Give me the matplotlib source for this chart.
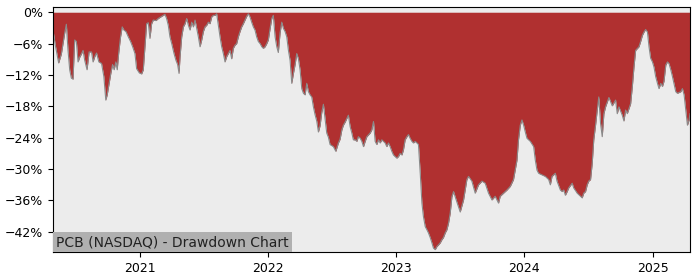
import numpy as np
import pandas as pd
import matplotlib
matplotlib.use("Agg")
import matplotlib.pyplot as plt
import matplotlib.dates as mdates
from matplotlib.ticker import FuncFormatter, MultipleLocator

# drawdown curve (time as decimal year, drawdown in %)
years = [
    2020.323, 2020.341, 2020.367, 2020.388, 2020.401, 2020.414, 2020.427, 2020.440, 2020.453, 2020.466,
    2020.479, 2020.492, 2020.505, 2020.518, 2020.531, 2020.544, 2020.557, 2020.570, 2020.588, 2020.604,
    2020.623, 2020.635, 2020.648, 2020.662, 2020.680, 2020.701, 2020.719, 2020.734, 2020.745, 2020.760,
    2020.773, 2020.787, 2020.799, 2020.812, 2020.823, 2020.834, 2020.849, 2020.862, 2020.875, 2020.891,
    2020.909, 2020.927, 2020.943, 2020.961, 2020.974, 2020.995, 2021.013, 2021.026, 2021.039, 2021.052,
    2021.065, 2021.078, 2021.091, 2021.104, 2021.125, 2021.143, 2021.162, 2021.182, 2021.195, 2021.208,
    2021.221, 2021.234, 2021.248, 2021.266, 2021.281, 2021.294, 2021.305, 2021.313, 2021.326, 2021.339,
    2021.352, 2021.365, 2021.378, 2021.391, 2021.404, 2021.417, 2021.430, 2021.443, 2021.456, 2021.469,
    2021.482, 2021.495, 2021.508, 2021.521, 2021.534, 2021.547, 2021.560, 2021.573, 2021.586, 2021.599,
    2021.612, 2021.625, 2021.638, 2021.651, 2021.664, 2021.677, 2021.690, 2021.703, 2021.716, 2021.729,
    2021.742, 2021.755, 2021.768, 2021.781, 2021.794, 2021.807, 2021.820, 2021.833, 2021.846, 2021.859,
    2021.872, 2021.885, 2021.898, 2021.911, 2021.924, 2021.938, 2021.951, 2021.963, 2021.977, 2021.990,
    2022.002, 2022.016, 2022.029, 2022.041, 2022.055, 2022.068, 2022.080, 2022.094, 2022.107, 2022.120,
    2022.133, 2022.146, 2022.159, 2022.172, 2022.185, 2022.198, 2022.211, 2022.224, 2022.237, 2022.250,
    2022.263, 2022.276, 2022.289, 2022.302, 2022.315, 2022.328, 2022.341, 2022.354, 2022.367, 2022.380,
    2022.393, 2022.406, 2022.419, 2022.432, 2022.445, 2022.458, 2022.471, 2022.484, 2022.510, 2022.529,
    2022.549, 2022.562, 2022.576, 2022.588, 2022.602, 2022.615, 2022.627, 2022.641, 2022.654, 2022.666,
    2022.680, 2022.693, 2022.705, 2022.719, 2022.732, 2022.745, 2022.758, 2022.771, 2022.797, 2022.810,
    2022.823, 2022.836, 2022.849, 2022.862, 2022.875, 2022.888, 2022.901, 2022.914, 2022.927, 2022.940,
    2022.953, 2022.966, 2022.979, 2022.992, 2023.005, 2023.018, 2023.031, 2023.045, 2023.057, 2023.070,
    2023.084, 2023.096, 2023.109, 2023.123, 2023.135, 2023.148, 2023.162, 2023.174, 2023.188, 2023.201,
    2023.213, 2023.227, 2023.240, 2023.252, 2023.266, 2023.279, 2023.291, 2023.305, 2023.318, 2023.330,
    2023.344, 2023.357, 2023.369, 2023.383, 2023.396, 2023.409, 2023.422, 2023.435, 2023.448, 2023.474,
    2023.500, 2023.526, 2023.552, 2023.565, 2023.591, 2023.617, 2023.643, 2023.670, 2023.695, 2023.721,
    2023.748, 2023.773, 2023.799, 2023.812, 2023.838, 2023.865, 2023.891, 2023.916, 2023.943, 2023.955,
    2023.969, 2023.982, 2023.995, 2024.008, 2024.021, 2024.047, 2024.073, 2024.086, 2024.099, 2024.112,
    2024.138, 2024.164, 2024.190, 2024.203, 2024.216, 2024.242, 2024.255, 2024.281, 2024.295, 2024.307,
    2024.320, 2024.334, 2024.346, 2024.373, 2024.385, 2024.412, 2024.438, 2024.451, 2024.463, 2024.477,
    2024.490, 2024.502, 2024.516, 2024.529, 2024.541, 2024.555, 2024.568, 2024.580, 2024.594, 2024.607,
    2024.620, 2024.633, 2024.659, 2024.685, 2024.711, 2024.724, 2024.737, 2024.763, 2024.776, 2024.789,
    2024.802, 2024.828, 2024.841, 2024.854, 2024.867, 2024.893, 2024.906, 2024.920, 2024.932, 2024.945,
    2024.959, 2024.971, 2024.984, 2024.998, 2025.010, 2025.023, 2025.037, 2025.049, 2025.063, 2025.076,
    2025.088, 2025.102, 2025.115, 2025.127, 2025.141, 2025.154, 2025.166, 2025.180, 2025.193, 2025.219,
    2025.232, 2025.245, 2025.258, 2025.271, 2025.284, 2025.291,
]
drawdown = [
    -3.4, -6.3, -9.7, -8.0, -6.0, -4.0, -2.3, -7.3, -11.0, -12.6,
    -12.8, -5.3, -5.6, -9.5, -8.6, -8.0, -7.3, -9.2, -11.0, -7.6,
    -7.6, -9.5, -8.5, -7.8, -9.5, -9.8, -12.3, -16.8, -15.8, -13.6,
    -11.7, -10.0, -11.0, -9.5, -11.0, -7.9, -4.7, -2.8, -3.4, -3.7,
    -4.7, -5.6, -6.6, -7.9, -10.8, -11.6, -11.8, -11.0, -6.6, -2.2,
    -2.0, -5.0, -2.2, -1.5, -1.6, -1.2, -0.9, -0.6, -0.4, -1.2,
    -2.5, -4.7, -6.0, -7.9, -9.2, -10.0, -11.7, -8.5, -4.7, -2.8,
    -2.2, -1.2, -2.5, -3.4, -1.9, -2.8, -1.5, -3.1, -4.7, -6.6,
    -5.3, -3.7, -2.8, -2.5, -1.9, -2.2, -0.9, -0.6, -0.6, -0.3,
    -2.5, -4.7, -6.6, -7.9, -9.5, -8.5, -7.9, -7.3, -8.9, -6.9,
    -6.3, -6.0, -4.7, -3.7, -2.8, -2.2, -1.5, -0.8, -0.3, -0.9,
    -1.9, -2.8, -3.4, -4.7, -5.6, -6.0, -6.6, -6.9, -6.6, -6.0,
    -5.3, -3.1, -1.2, -0.6, -4.7, -6.6, -7.7, -3.9, -1.9, -3.1,
    -3.7, -4.7, -7.3, -9.2, -13.6, -11.7, -10.0, -7.9, -8.9, -11.0,
    -14.6, -15.5, -15.8, -13.6, -15.2, -15.8, -16.2, -18.1, -19.6, -20.8,
    -22.9, -21.7, -19.2, -17.6, -20.3, -23.1, -23.9, -25.3, -25.7, -26.6,
    -25.0, -24.3, -22.5, -21.6, -21.0, -20.3, -19.7, -21.9, -23.1, -24.4,
    -24.4, -24.7, -23.8, -24.1, -24.7, -25.7, -24.7, -23.8, -23.1, -22.5,
    -20.9, -24.7, -25.3, -24.4, -25.0, -24.4, -24.7, -25.0, -25.7, -25.0,
    -25.7, -26.6, -27.3, -27.6, -27.9, -27.6, -27.0, -27.3, -26.3, -24.4,
    -23.8, -23.4, -24.1, -24.7, -25.0, -24.7, -25.0, -25.3, -30.8, -36.5,
    -39.1, -41.0, -41.6, -42.2, -43.1, -44.1, -45.1, -45.4, -44.8, -44.5,
    -44.1, -43.5, -43.1, -42.2, -41.6, -40.3, -38.4, -35.3, -34.3, -36.3,
    -38.2, -35.9, -32.0, -31.4, -32.3, -34.6, -33.0, -32.3, -32.7, -34.6,
    -35.9, -35.2, -36.5, -35.2, -34.6, -34.0, -33.3, -32.0, -28.3, -24.4,
    -21.6, -20.6, -21.6, -22.9, -24.1, -24.7, -25.7, -28.3, -30.2, -30.8,
    -31.1, -31.4, -32.0, -33.0, -31.4, -30.8, -32.3, -34.0, -34.3, -34.0,
    -35.0, -34.3, -33.6, -32.7, -33.6, -34.6, -35.2, -35.5, -34.6, -34.3,
    -33.0, -32.3, -32.0, -28.9, -24.4, -21.6, -18.7, -16.2, -21.3, -23.8,
    -19.4, -18.1, -16.3, -17.9, -16.8, -19.4, -18.1, -19.7, -20.8, -18.7,
    -19.4, -17.5, -14.3, -10.5, -7.3, -6.6, -5.6, -4.4, -3.8, -3.3,
    -3.8, -6.6, -8.8, -9.5, -10.5, -12.3, -13.6, -14.6, -13.6, -14.2,
    -13.2, -10.1, -9.5, -9.8, -11.0, -12.3, -13.6, -15.2, -15.5, -15.2,
    -14.6, -15.8, -18.7, -21.6, -20.6, -19.4,
]
title = "PCB (NASDAQ) - Drawdown Chart"


def to_date(y):
    start = pd.Timestamp(int(y), 1, 1)
    days = (pd.Timestamp(int(y) + 1, 1, 1) - start).days
    return start + pd.Timedelta(days=(y - int(y)) * days)


dates = [to_date(y) for y in years]
dd = np.array(drawdown)

fig = plt.figure(figsize=(7, 2.8), dpi=100)
ax = fig.add_axes([0.0757, 0.1, 0.91, 0.875])
ax.set_facecolor("#ececec")

ax.fill_between(dates, dd, 0, color="#b03030", linewidth=0)
ax.plot(dates, dd, color="#8a8a8a", linewidth=0.8)

ax.set_xlim(dates[0], dates[-1])
ax.set_ylim(dd.min() * 1.01, 1)
ax.yaxis.set_major_locator(MultipleLocator(6))
ax.yaxis.set_major_formatter(FuncFormatter(lambda v, p: f"{v:.0f}%".replace("-", "\u2212")))
ax.xaxis.set_major_locator(mdates.YearLocator())
ax.xaxis.set_major_formatter(mdates.DateFormatter("%Y"))
ax.tick_params(labelsize=9)

ax.text(0.005, 0.012, title, transform=ax.transAxes, fontsize=10,
        ha="left", va="bottom", color="#222222",
        bbox=dict(facecolor="#b0b0b0", edgecolor="none", pad=2))

fig.savefig("out.png", dpi=100)
